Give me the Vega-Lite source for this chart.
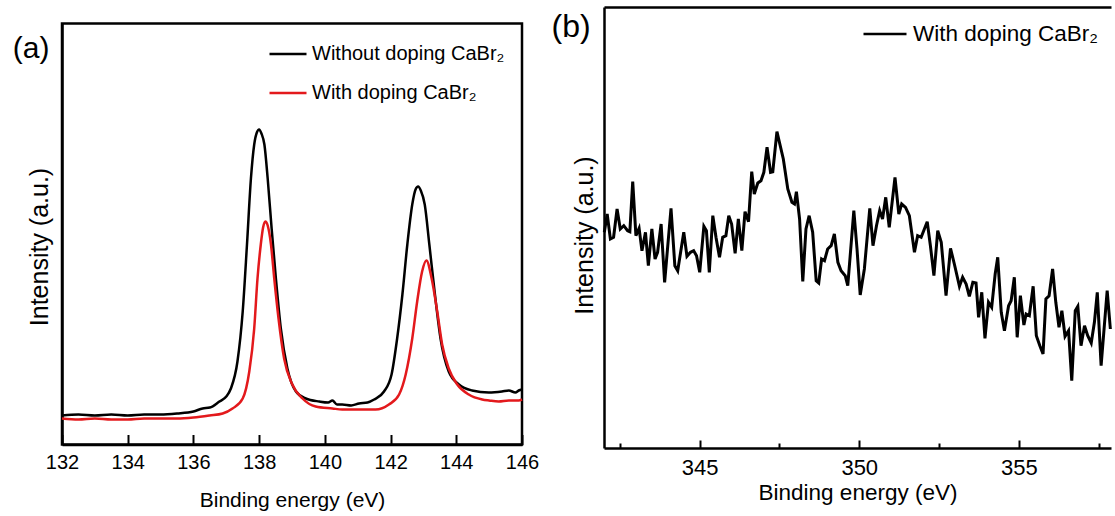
{
  "$schema": "https://vega.github.io/schema/vega-lite/v6.json",
  "padding": {"left": 11, "top": 7, "right": 0, "bottom": 0},
  "spacing": 11,
  "resolve": {"scale": {"color": "independent"}, "legend": {"color": "independent"}},
  "config": {
    "font": "Liberation Sans",
    "view": {"stroke": null},
    "axis": {"grid": false, "domainColor": "black", "domainWidth": 2.5, "tickColor": "black", "tickWidth": 2, "labelColor": "black", "titleColor": "black", "titleFontWeight": "normal", "labelFlush": false, "labelOverlap": false},
    "legend": {"labelColor": "black", "labelLimit": 400}
  },
  "hconcat": [
    {
      "spacing": 13.5,
      "vconcat": [
        {
          "width": 460,
          "height": 1,
          "data": {"values": [{"k": 0}]},
          "mark": {"type": "point", "size": 0, "opacity": 0},
          "encoding": {}
        },
        {
          "width": 460,
          "height": 421,
          "view": {"stroke": "black", "strokeWidth": 2.5},
          "layer": [
            {
              "data": {"values": [
                {"s":"Without doping CaBr₂","E":132.0,"I":29},{"s":"Without doping CaBr₂","E":132.5,"I":30},{"s":"Without doping CaBr₂","E":133.0,"I":29},{"s":"Without doping CaBr₂","E":133.5,"I":30},{"s":"Without doping CaBr₂","E":134.0,"I":29},{"s":"Without doping CaBr₂","E":134.5,"I":30},{"s":"Without doping CaBr₂","E":135.0,"I":30},{"s":"Without doping CaBr₂","E":135.5,"I":31},{"s":"Without doping CaBr₂","E":136.0,"I":33},{"s":"Without doping CaBr₂","E":136.28,"I":36},{"s":"Without doping CaBr₂","E":136.5,"I":37},{"s":"Without doping CaBr₂","E":136.79,"I":43},{"s":"Without doping CaBr₂","E":137.0,"I":48},{"s":"Without doping CaBr₂","E":137.14,"I":56},{"s":"Without doping CaBr₂","E":137.34,"I":83},{"s":"Without doping CaBr₂","E":137.5,"I":133},{"s":"Without doping CaBr₂","E":137.63,"I":200},{"s":"Without doping CaBr₂","E":137.75,"I":266},{"s":"Without doping CaBr₂","E":137.85,"I":300},{"s":"Without doping CaBr₂","E":137.93,"I":312},{"s":"Without doping CaBr₂","E":138.0,"I":315},{"s":"Without doping CaBr₂","E":138.07,"I":311},{"s":"Without doping CaBr₂","E":138.16,"I":300},{"s":"Without doping CaBr₂","E":138.26,"I":266},{"s":"Without doping CaBr₂","E":138.38,"I":216},{"s":"Without doping CaBr₂","E":138.51,"I":166},{"s":"Without doping CaBr₂","E":138.66,"I":116},{"s":"Without doping CaBr₂","E":138.86,"I":76},{"s":"Without doping CaBr₂","E":139.12,"I":53},{"s":"Without doping CaBr₂","E":139.42,"I":46},{"s":"Without doping CaBr₂","E":139.83,"I":43},{"s":"Without doping CaBr₂","E":140.1,"I":42},{"s":"Without doping CaBr₂","E":140.23,"I":44},{"s":"Without doping CaBr₂","E":140.37,"I":40},{"s":"Without doping CaBr₂","E":140.53,"I":40},{"s":"Without doping CaBr₂","E":140.8,"I":39},{"s":"Without doping CaBr₂","E":141.04,"I":41},{"s":"Without doping CaBr₂","E":141.3,"I":42},{"s":"Without doping CaBr₂","E":141.5,"I":45},{"s":"Without doping CaBr₂","E":141.8,"I":53},{"s":"Without doping CaBr₂","E":142.03,"I":70},{"s":"Without doping CaBr₂","E":142.2,"I":106},{"s":"Without doping CaBr₂","E":142.36,"I":150},{"s":"Without doping CaBr₂","E":142.51,"I":200},{"s":"Without doping CaBr₂","E":142.66,"I":240},{"s":"Without doping CaBr₂","E":142.76,"I":255},{"s":"Without doping CaBr₂","E":142.84,"I":258},{"s":"Without doping CaBr₂","E":142.92,"I":254},{"s":"Without doping CaBr₂","E":143.04,"I":240},{"s":"Without doping CaBr₂","E":143.18,"I":200},{"s":"Without doping CaBr₂","E":143.35,"I":150},{"s":"Without doping CaBr₂","E":143.52,"I":106},{"s":"Without doping CaBr₂","E":143.77,"I":73},{"s":"Without doping CaBr₂","E":144.08,"I":60},{"s":"Without doping CaBr₂","E":144.48,"I":54},{"s":"Without doping CaBr₂","E":144.99,"I":52},{"s":"Without doping CaBr₂","E":145.39,"I":53},{"s":"Without doping CaBr₂","E":145.6,"I":54},{"s":"Without doping CaBr₂","E":145.8,"I":52},{"s":"Without doping CaBr₂","E":145.9,"I":54},{"s":"Without doping CaBr₂","E":146.0,"I":55},
                {"s":"With doping CaBr₂","E":132.0,"I":26},{"s":"With doping CaBr₂","E":132.5,"I":25},{"s":"With doping CaBr₂","E":133.0,"I":26},{"s":"With doping CaBr₂","E":133.5,"I":25},{"s":"With doping CaBr₂","E":134.0,"I":25},{"s":"With doping CaBr₂","E":134.5,"I":26},{"s":"With doping CaBr₂","E":135.0,"I":26},{"s":"With doping CaBr₂","E":135.5,"I":26},{"s":"With doping CaBr₂","E":136.0,"I":27},{"s":"With doping CaBr₂","E":136.49,"I":29},{"s":"With doping CaBr₂","E":136.89,"I":31},{"s":"With doping CaBr₂","E":137.19,"I":36},{"s":"With doping CaBr₂","E":137.5,"I":46},{"s":"With doping CaBr₂","E":137.7,"I":73},{"s":"With doping CaBr₂","E":137.85,"I":116},{"s":"With doping CaBr₂","E":137.95,"I":166},{"s":"With doping CaBr₂","E":138.05,"I":200},{"s":"With doping CaBr₂","E":138.12,"I":217},{"s":"With doping CaBr₂","E":138.19,"I":223},{"s":"With doping CaBr₂","E":138.26,"I":219},{"s":"With doping CaBr₂","E":138.36,"I":200},{"s":"With doping CaBr₂","E":138.46,"I":166},{"s":"With doping CaBr₂","E":138.59,"I":126},{"s":"With doping CaBr₂","E":138.76,"I":86},{"s":"With doping CaBr₂","E":139.01,"I":60},{"s":"With doping CaBr₂","E":139.32,"I":46},{"s":"With doping CaBr₂","E":139.72,"I":38},{"s":"With doping CaBr₂","E":140.23,"I":36},{"s":"With doping CaBr₂","E":140.53,"I":35},{"s":"With doping CaBr₂","E":141.04,"I":35},{"s":"With doping CaBr₂","E":141.54,"I":35},{"s":"With doping CaBr₂","E":141.95,"I":40},{"s":"With doping CaBr₂","E":142.26,"I":50},{"s":"With doping CaBr₂","E":142.46,"I":70},{"s":"With doping CaBr₂","E":142.66,"I":106},{"s":"With doping CaBr₂","E":142.81,"I":143},{"s":"With doping CaBr₂","E":142.96,"I":173},{"s":"With doping CaBr₂","E":143.09,"I":184},{"s":"With doping CaBr₂","E":143.25,"I":166},{"s":"With doping CaBr₂","E":143.42,"I":133},{"s":"With doping CaBr₂","E":143.57,"I":100},{"s":"With doping CaBr₂","E":143.77,"I":76},{"s":"With doping CaBr₂","E":144.03,"I":60},{"s":"With doping CaBr₂","E":144.38,"I":50},{"s":"With doping CaBr₂","E":144.79,"I":45},{"s":"With doping CaBr₂","E":145.0,"I":44},{"s":"With doping CaBr₂","E":145.29,"I":43},{"s":"With doping CaBr₂","E":145.6,"I":44},{"s":"With doping CaBr₂","E":145.9,"I":44},{"s":"With doping CaBr₂","E":146.0,"I":45}
              ]},
              "mark": {"type": "line", "strokeWidth": 2.5, "interpolate": "monotone"},
              "encoding": {
                "x": {"field": "E", "type": "quantitative",
                  "scale": {"domain": [132, 146], "nice": false, "zero": false},
                  "axis": {"values": [132,133,134,135,136,137,138,139,140,141,142,143,144,145,146],
                    "labelExpr": "datum.value % 2 == 0 ? datum.label : ''",
                    "tickSize": {"condition": {"test": "datum.value % 2 == 0", "value": -10}, "value": -6},
                    "labelFontSize": 20, "labelPadding": 18,
                    "title": "Binding energy (eV)", "titleFontSize": 21, "titleY": 62, "titleBaseline": "alphabetic"}},
                "y": {"field": "I", "type": "quantitative",
                  "scale": {"domain": [0, 421], "nice": false},
                  "axis": {"labels": false, "ticks": false, "title": "Intensity (a.u.)", "titleFontSize": 25,
                    "titleX": -23, "titleY": 223, "titleAngle": -90, "titleAlign": "center", "titleBaseline": "middle"}},
                "color": {"field": "s", "type": "nominal",
                  "scale": {"domain": ["Without doping CaBr₂", "With doping CaBr₂"], "range": ["#000000", "#e3191c"]},
                  "legend": {"title": null, "orient": "none", "legendX": 206, "legendY": 27, "padding": 0,
                    "symbolType": "stroke", "symbolSize": 1369, "symbolStrokeWidth": 2.5,
                    "labelFontSize": 20, "labelOffset": 4, "rowPadding": 9}}
              }
            },
            {
              "data": {"values": [{"E": 131.06, "I": 396, "t": "(a)"}]},
              "mark": {"type": "text", "fontSize": 30, "align": "center", "baseline": "middle", "color": "black"},
              "encoding": {
                "x": {"field": "E", "type": "quantitative"},
                "y": {"field": "I", "type": "quantitative"},
                "text": {"field": "t"}
              }
            }
          ]
        }
      ]
    },
    {
      "width": 507,
      "height": 441,
      "resolve": {"axis": {"x": "independent"}},
      "layer": [
        {
          "data": {"values": [
            {"E":342.01,"I":215.7},{"E":342.10,"I":234},{"E":342.20,"I":209},{"E":342.30,"I":210.7},{"E":342.41,"I":239},{"E":342.51,"I":219},{"E":342.62,"I":222.3},{"E":342.74,"I":217.3},{"E":342.81,"I":216.3},{"E":342.90,"I":266.3},{"E":343.00,"I":212.3},{"E":343.10,"I":219.7},{"E":343.19,"I":197.3},{"E":343.30,"I":215.7},{"E":343.39,"I":182.3},{"E":343.50,"I":219},{"E":343.60,"I":189},{"E":343.68,"I":195.7},{"E":343.79,"I":224},{"E":343.90,"I":165.7},{"E":344.10,"I":239.7},{"E":344.22,"I":182.3},{"E":344.31,"I":177.3},{"E":344.50,"I":215.7},{"E":344.60,"I":191.7},{"E":344.71,"I":195.7},{"E":344.81,"I":197.3},{"E":344.90,"I":192.3},{"E":345.00,"I":175.7},{"E":345.13,"I":221.7},{"E":345.21,"I":217.3},{"E":345.30,"I":175.7},{"E":345.41,"I":232.3},{"E":345.51,"I":210.7},{"E":345.62,"I":190.7},{"E":345.72,"I":210.7},{"E":345.82,"I":212.3},{"E":345.91,"I":232.3},{"E":346.00,"I":224},{"E":346.11,"I":194.7},{"E":346.21,"I":229},{"E":346.32,"I":197.3},{"E":346.42,"I":236.3},{"E":346.53,"I":226.3},{"E":346.63,"I":276.3},{"E":346.71,"I":254},{"E":346.82,"I":265},{"E":346.92,"I":267.3},{"E":347.01,"I":275.7},{"E":347.11,"I":300.7},{"E":347.22,"I":275.7},{"E":347.29,"I":276.3},{"E":347.42,"I":316.3},{"E":347.62,"I":289},{"E":347.76,"I":259},{"E":347.89,"I":245.7},{"E":347.97,"I":244},{"E":348.03,"I":256.3},{"E":348.13,"I":229},{"E":348.23,"I":166.7},{"E":348.33,"I":219},{"E":348.43,"I":232.3},{"E":348.54,"I":215.7},{"E":348.65,"I":167.3},{"E":348.73,"I":165},{"E":348.82,"I":189},{"E":348.91,"I":187.3},{"E":349.01,"I":199},{"E":349.12,"I":202.3},{"E":349.22,"I":214},{"E":349.33,"I":185.7},{"E":349.43,"I":177.3},{"E":349.56,"I":172.3},{"E":349.64,"I":162.3},{"E":349.83,"I":237.3},{"E":349.93,"I":199},{"E":350.03,"I":153},{"E":350.16,"I":179},{"E":350.33,"I":239.7},{"E":350.43,"I":202.3},{"E":350.54,"I":222.3},{"E":350.64,"I":237.3},{"E":350.73,"I":229},{"E":350.83,"I":250.7},{"E":350.94,"I":220.7},{"E":351.12,"I":270.7},{"E":351.24,"I":234},{"E":351.33,"I":244},{"E":351.45,"I":240.7},{"E":351.57,"I":232.3},{"E":351.73,"I":195.7},{"E":351.83,"I":212.3},{"E":351.94,"I":210.7},{"E":352.13,"I":226.3},{"E":352.23,"I":202.3},{"E":352.34,"I":172.3},{"E":352.46,"I":217.3},{"E":352.57,"I":205.7},{"E":352.72,"I":152.3},{"E":352.86,"I":199.7},{"E":352.98,"I":184},{"E":353.14,"I":161.7},{"E":353.24,"I":170.7},{"E":353.35,"I":164},{"E":353.45,"I":151.7},{"E":353.56,"I":165.7},{"E":353.66,"I":165},{"E":353.74,"I":130.7},{"E":353.84,"I":155.7},{"E":353.94,"I":109.7},{"E":354.05,"I":145.7},{"E":354.15,"I":140.7},{"E":354.26,"I":174},{"E":354.34,"I":190.7},{"E":354.45,"I":135.7},{"E":354.55,"I":117.3},{"E":354.68,"I":142.3},{"E":354.76,"I":147.3},{"E":354.86,"I":170.7},{"E":354.95,"I":110.7},{"E":355.05,"I":152.3},{"E":355.16,"I":123},{"E":355.23,"I":134},{"E":355.33,"I":132.3},{"E":355.45,"I":161.7},{"E":355.55,"I":112.3},{"E":355.66,"I":102.3},{"E":355.76,"I":94},{"E":355.85,"I":149},{"E":355.95,"I":152.3},{"E":356.06,"I":179},{"E":356.16,"I":145.7},{"E":356.26,"I":120.7},{"E":356.35,"I":137.3},{"E":356.45,"I":111.7},{"E":356.56,"I":117.3},{"E":356.66,"I":67.3},{"E":356.77,"I":137.3},{"E":356.85,"I":141.7},{"E":356.95,"I":102.3},{"E":357.06,"I":122.3},{"E":357.16,"I":112.3},{"E":357.27,"I":105},{"E":357.37,"I":125.7},{"E":357.46,"I":155.7},{"E":357.58,"I":82.3},{"E":357.77,"I":157.3},{"E":357.87,"I":119}
          ]},
          "transform": [{"calculate": "'With doping CaBr₂'", "as": "s"}],
          "mark": {"type": "line", "strokeWidth": 3, "interpolate": "linear"},
          "encoding": {
            "x": {"field": "E", "type": "quantitative",
              "scale": {"domain": [342, 357.89], "nice": false, "zero": false},
              "axis": {"orient": "bottom", "values": [342.5,345,347.5,350,352.5,355,357.5],
                "labelExpr": "datum.value % 5 == 0 ? datum.label : ''",
                "tickSize": {"condition": {"test": "datum.value % 5 == 0", "value": -8}, "value": -5},
                "labelFontSize": 22, "labelPadding": 17,
                "title": "Binding energy (eV)", "titleFontSize": 22.5, "titleY": 51, "titleBaseline": "alphabetic"}},
            "y": {"field": "I", "type": "quantitative",
              "scale": {"domain": [0, 441], "nice": false},
              "axis": {"labels": false, "ticks": false, "title": "Intensity (a.u.)", "titleFontSize": 25,
                "titleX": -20, "titleY": 228, "titleAngle": -90, "titleAlign": "center", "titleBaseline": "middle"}},
            "color": {"field": "s", "type": "nominal",
              "scale": {"domain": ["With doping CaBr₂"], "range": ["#000000"]},
              "legend": {"title": null, "orient": "none", "legendX": 258, "legendY": 4, "padding": 0,
                "symbolType": "stroke", "symbolSize": 1849, "symbolStrokeWidth": 2.5,
                "labelFontSize": 22.5, "labelOffset": 5}}
          }
        },
        {
          "data": {"values": [{"E": 342, "I": 0}]},
          "mark": {"type": "point", "opacity": 0},
          "encoding": {
            "x": {"field": "E", "type": "quantitative",
              "axis": {"orient": "top", "labels": false, "ticks": false, "title": null}},
            "y": {"field": "I", "type": "quantitative"}
          }
        },
        {
          "data": {"values": [{"E": 340.97, "I": 421, "t": "(b)"}]},
          "mark": {"type": "text", "fontSize": 32, "align": "center", "baseline": "middle", "color": "black"},
          "encoding": {
            "x": {"field": "E", "type": "quantitative", "axis": null},
            "y": {"field": "I", "type": "quantitative"},
            "text": {"field": "t"}
          }
        }
      ]
    }
  ]
}
